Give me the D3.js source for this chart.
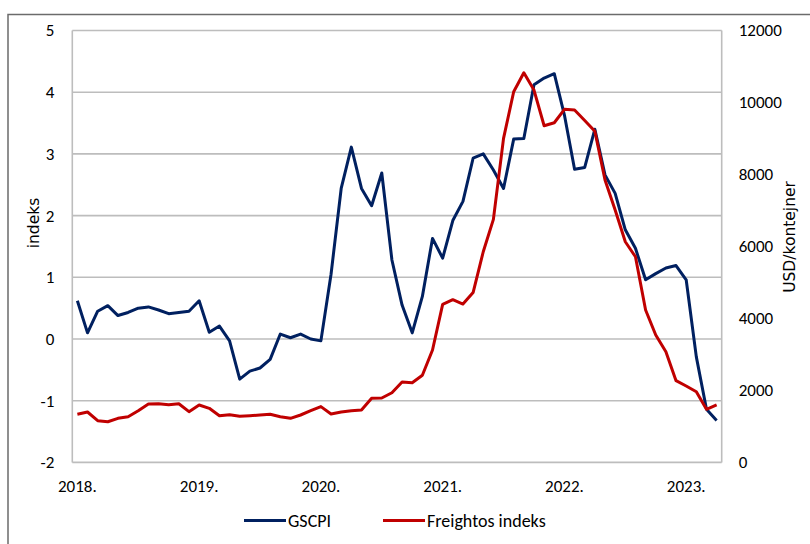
<!DOCTYPE html>
<html>
<head>
<meta charset="utf-8">
<script src="https://cdn.jsdelivr.net/npm/d3@7"></script>
<style>
  body { margin: 0; background: #fff; }
  .tick text { font-family: Carlito, "Liberation Sans Narrow", "DejaVu Sans Condensed", sans-serif; }
</style>
</head>
<body>
<div id="chart"></div>
<script>
// monthly categories, Jan 2018 - Apr 2023
var months = d3.timeMonths(new Date(2018, 0, 1), new Date(2023, 4, 1))
var xLabels = ["2018.", "2019.", "2020.", "2021.", "2022.", "2023."]

// GSCPI, indeks (left axis)
var gscpi = [
    0.62, 0.10, 0.45, 0.54, 0.38, 0.43, 0.50, 0.52, 0.47, 0.41, 0.43, 0.45,
    0.62, 0.11, 0.21, -0.03, -0.65, -0.52, -0.47, -0.33, 0.08, 0.02, 0.08, 0.00,
    -0.03, 1.05, 2.44, 3.11, 2.44, 2.16, 2.69, 1.28, 0.55, 0.10, 0.69, 1.63,
    1.31, 1.92, 2.23, 2.93, 3.00, 2.74, 2.44, 3.24, 3.25, 4.12, 4.23, 4.30,
    3.63, 2.75, 2.78, 3.40, 2.66, 2.36, 1.77, 1.47, 0.96, 1.06, 1.15, 1.19,
    0.96, -0.29, -1.14, -1.32
]

// Freightos indeks, USD/kontejner (right axis)
var freightos = [
    1340, 1400, 1160, 1130, 1225, 1270, 1436, 1620, 1630, 1603, 1631, 1409,
    1595, 1503, 1297, 1325, 1281, 1297, 1317, 1336, 1270, 1225, 1317, 1436,
    1550, 1345, 1400, 1436, 1456, 1781, 1789, 1936, 2233, 2214, 2420, 3122,
    4392, 4520, 4400, 4720, 5853, 6753, 9003, 10298, 10826, 10345, 9354, 9437,
    9809, 9790, 9500, 9200, 7845, 7012, 6131, 5714, 4234, 3539, 3075, 2270,
    2122, 1964, 1475, 1595
]

var leftTicks = [-2, -1, 0, 1, 2, 3, 4, 5]
var rightTicks = [0, 2000, 4000, 6000, 8000, 10000, 12000]

var width = 810, height = 544
var plot = { left: 72.3, right: 721.7, top: 30.5, bottom: 462.4 }

var svg = d3.select("#chart").append("svg")
    .attr("width", width)
    .attr("height", height)

// outer frame
svg.append("path")
    .attr("d", "M8,544 L8,14.5 L810,14.5")
    .attr("fill", "none")
    .attr("stroke", "#6b6b6b")
    .attr("stroke-width", 1.5)

var x = d3.scaleBand()
    .domain(months.map(function (d, i) { return i }))
    .range([plot.left, plot.right])
    .paddingInner(0)
    .paddingOuter(0)

var yL = d3.scaleLinear().domain([-2, 5]).range([plot.bottom, plot.top])
var yR = d3.scaleLinear().domain([0, 12000]).range([plot.bottom, plot.top])

function cx(i) { return x(i) + x.bandwidth() / 2 }

// hyphen instead of unicode minus, like the original
function plain(d) { return String(d) }

// gridlines
svg.append("g")
    .selectAll("line")
    .data(leftTicks)
    .enter()
    .append("line")
    .attr("x1", plot.left)
    .attr("x2", plot.right)
    .attr("y1", function (d) { return yL(d) })
    .attr("y2", function (d) { return yL(d) })
    .attr("stroke", "#bdbdbd")
    .attr("stroke-width", 1.6)

// plot border sides
svg.append("line")
    .attr("x1", plot.left).attr("x2", plot.left)
    .attr("y1", plot.top).attr("y2", plot.bottom)
    .attr("stroke", "#bdbdbd").attr("stroke-width", 1.6)
svg.append("line")
    .attr("x1", plot.right).attr("x2", plot.right)
    .attr("y1", plot.top).attr("y2", plot.bottom)
    .attr("stroke", "#bdbdbd").attr("stroke-width", 1.6)

// left axis
var leftAxis = svg.append("g")
    .attr("transform", "translate(" + plot.left + ",0)")
    .call(d3.axisLeft(yL).tickValues(leftTicks).tickSize(0).tickPadding(18).tickFormat(plain))
leftAxis.select(".domain").remove()
leftAxis.selectAll("text").attr("font-size", 17).attr("fill", "#000")

// right axis
var rightAxis = svg.append("g")
    .attr("transform", "translate(" + plot.right + ",0)")
    .call(d3.axisRight(yR).tickValues(rightTicks).tickSize(0).tickPadding(17).tickFormat(plain))
rightAxis.select(".domain").remove()
rightAxis.selectAll("text").attr("font-size", 17).attr("fill", "#000")

// x labels, one per January
var xAxis = svg.append("g")
    .attr("transform", "translate(0," + plot.bottom + ")")
    .call(d3.axisBottom(x)
        .tickValues(xLabels.map(function (d, i) { return i * 12 }))
        .tickSize(0).tickPadding(18)
        .tickFormat(function (d) { return xLabels[d / 12] }))
xAxis.select(".domain").remove()
xAxis.selectAll("text").attr("font-size", 17).attr("fill", "#000")

// axis titles
svg.append("text")
    .attr("transform", "translate(39,223) rotate(-90)")
    .attr("text-anchor", "middle")
    .attr("font-family", "DejaVu Sans, sans-serif")
    .attr("font-size", 15.5)
    .text("indeks")

svg.append("text")
    .attr("transform", "translate(795,237) rotate(-90)")
    .attr("text-anchor", "middle")
    .attr("font-family", "DejaVu Sans, sans-serif")
    .attr("font-size", 15.5)
    .text("USD/kontejner")

// lines
var lineL = d3.line()
    .x(function (d, i) { return cx(i) })
    .y(function (d) { return yL(d) })
var lineR = d3.line()
    .x(function (d, i) { return cx(i) })
    .y(function (d) { return yR(d) })

svg.append("path")
    .datum(gscpi)
    .attr("d", lineL)
    .attr("fill", "none")
    .attr("stroke", "#002060")
    .attr("stroke-width", 3)
    .attr("stroke-linejoin", "round")

svg.append("path")
    .datum(freightos)
    .attr("d", lineR)
    .attr("fill", "none")
    .attr("stroke", "#C00000")
    .attr("stroke-width", 3)
    .attr("stroke-linejoin", "round")

// legend
var legendItems = [
    { name: "GSCPI", color: "#002060", x: 244 },
    { name: "Freightos indeks", color: "#C00000", x: 383 }
]
var legend = svg.append("g")
    .selectAll("g")
    .data(legendItems)
    .enter()
    .append("g")
    .attr("transform", function (d) { return "translate(" + d.x + ",520.5)" })
legend.append("line")
    .attr("x1", 0).attr("x2", 42)
    .attr("stroke", function (d) { return d.color })
    .attr("stroke-width", 3)
legend.append("text")
    .attr("x", 44)
    .attr("dy", "0.35em")
    .attr("font-family", "Carlito, 'Liberation Sans Narrow', 'DejaVu Sans Condensed', sans-serif")
    .attr("font-size", 18)
    .text(function (d) { return d.name })
</script>
</body>
</html>
